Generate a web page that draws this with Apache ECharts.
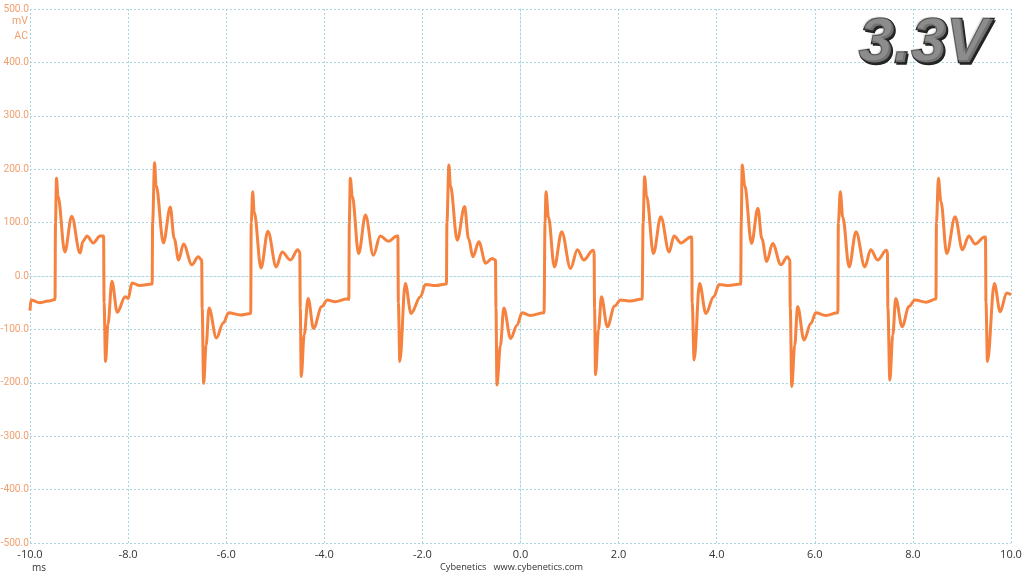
<!DOCTYPE html>
<html><head><meta charset="utf-8">
<script src="https://cdn.jsdelivr.net/npm/echarts@6/dist/echarts.min.js"></script>
<style>html,body{margin:0;padding:0;background:#fff}#c{width:1024px;height:576px}</style>
</head><body><div id="c"></div>
<script>
// time in ms
var timeMs = [
-10.00,-9.98,-9.80,-9.63,-9.49,-9.48,-9.46,-9.43,-9.29,-9.15,-8.98,-8.92,-8.84,-8.71,-8.57,-8.50,
-8.49,-8.46,-8.41,-8.33,-8.22,-8.06,-8.00,-7.92,-7.76,-7.51,
-7.50,-7.46,-7.43,-7.28,-7.14,-7.06,-6.97,-6.87,-6.70,-6.57,-6.50,
-6.49,-6.46,-6.41,-6.35,-6.20,-6.06,-5.95,-5.71,-5.50,
-5.49,-5.46,-5.43,-5.29,-5.15,-4.98,-4.86,-4.69,-4.54,-4.50,
-4.49,-4.47,-4.41,-4.33,-4.22,-4.05,-3.94,-3.78,-3.54,-3.50,
-3.49,-3.47,-3.43,-3.30,-3.16,-3.00,-2.86,-2.69,-2.52,-2.50,
-2.49,-2.46,-2.35,-2.23,-2.04,-1.94,-1.73,-1.51,
-1.50,-1.46,-1.43,-1.29,-1.14,-1.06,-0.97,-0.85,-0.71,-0.58,-0.51,
-0.50,-0.48,-0.41,-0.34,-0.20,-0.07,0.03,0.20,0.48,
0.50,0.52,0.57,0.69,0.84,1.02,1.16,1.29,1.48,1.50,
1.51,1.53,1.59,1.65,1.77,1.92,2.04,2.24,2.48,
2.50,2.53,2.57,2.71,2.86,3.03,3.13,3.27,3.47,3.49,
3.50,3.54,3.65,3.78,3.94,4.05,4.24,4.49,
4.50,4.52,4.57,4.71,4.84,4.92,5.02,5.14,5.31,5.44,5.49,
5.50,5.53,5.59,5.65,5.78,5.92,6.02,6.22,6.47,
6.48,6.52,6.57,6.70,6.84,7.02,7.14,7.28,7.46,7.48,
7.49,7.53,7.59,7.65,7.78,7.92,8.04,8.27,8.47,
8.48,8.52,8.57,8.69,8.86,9.01,9.14,9.27,9.46,9.48,
9.49,9.52,9.66,9.78,9.91,10.00
];
// voltage in mV (AC)
var ripple_mV = [
-65,-45,-50,-47,-44,100,183,150,45,112,43,65,75,62,75,75,
-50,-160,-90,-10,-68,-39,-42,-13,-18,-15,
100,212,170,62,129,70,30,60,21,36,30,
-60,-201,-130,-60,-116,-88,-69,-73,-70,
100,158,120,15,84,17,45,30,49,45,
-60,-188,-110,-42,-98,-57,-45,-48,-43,-44,
100,183,150,42,114,39,75,65,75,75,
-50,-160,-14,-70,-39,-16,-18,-15,
100,208,170,67,130,70,36,64,24,33,30,
-60,-204,-130,-60,-117,-92,-69,-74,-69,
100,158,110,17,83,14,49,30,48,45,
-60,-185,-100,-39,-95,-56,-45,-47,-43,
100,186,150,42,111,45,75,62,73,73,
-50,-157,-14,-70,-39,-16,-18,-15,
100,208,170,61,127,70,27,61,21,36,30,
-60,-207,-130,-57,-120,-89,-69,-74,-69,
100,158,110,17,83,17,49,30,48,45,
-60,-195,-110,-42,-95,-57,-45,-49,-43,
100,183,140,42,111,49,75,60,73,73,
-50,-160,-14,-67,-32,-35
];
var xTicks = {min:-10, max:10, step:2};
var yTicks = {min:-500, max:500, step:100};
var titleText = '3.3V';
var unitLabels = ['mV','AC'];
var xUnit = 'ms';
var footer = 'Cybenetics   www.cybenetics.com';

var seriesData = timeMs.map(function(t,i){return [t, ripple_mV[i]];});
var chart = echarts.init(document.getElementById('c'), null, {renderer:'canvas'});
var gridLine = {show:true, lineStyle:{color:'#a9d5e2', type:[2,2], width:1}};
var titleFont = 'italic bold 63px "Liberation Sans"';
chart.setOption({
  animation:false,
  backgroundColor:'#ffffff',
  grid:{left:30, right:13, top:9, bottom:33, containLabel:false, outerBoundsMode:'none'},
  xAxis:{type:'value', min:xTicks.min, max:xTicks.max, interval:xTicks.step,
    axisLine:{show:true, lineStyle:{color:'#a9d5e2', type:[2,2]}}, axisTick:{show:false},
    splitLine:gridLine,
    axisLabel:{color:'#333', fontSize:11, fontFamily:'Open Sans', margin:6,
      formatter:function(v){return v.toFixed(1);}}},
  yAxis:{type:'value', min:yTicks.min, max:yTicks.max, interval:yTicks.step,
    axisLine:{show:true, lineStyle:{color:'#a9d5e2', type:[2,2]}}, axisTick:{show:false},
    splitLine:gridLine,
    axisLabel:{color:'#f0a070', fontSize:10.2, fontFamily:'Roboto', margin:1,
      formatter:function(v){return v.toFixed(1);}}},
  series:[{type:'line', data:seriesData, showSymbol:false, symbol:'none',
    smooth:0.35, smoothMonotone:'x',
    lineStyle:{color:'#f5823f', width:3}, z:3}],
  graphic:[
    {type:'text', right:996, top:16, style:{text:unitLabels[0], fill:'#f0a070', font:'10.5px Roboto', textAlign:'right'}},
    {type:'text', right:996, top:31, style:{text:unitLabels[1], fill:'#f0a070', font:'10.5px Roboto', textAlign:'right'}},
    {type:'text', left:32, top:563, style:{text:xUnit, fill:'#333', font:'10px "Open Sans"'}},
    {type:'text', left:440, top:563, style:{text:footer, fill:'#333', font:'9.2px "Open Sans"'}},
    {type:'text', left:860, top:14, z:9, style:{text:titleText, font:titleFont,
      fill:'#222', stroke:'#222', lineWidth:1.5}},
    {type:'text', left:858, top:12, z:10, style:{text:titleText, font:titleFont,
      fill:'#727272', stroke:'#2a2a2a', lineWidth:2.5}},
    {type:'text', left:857, top:11, z:11, style:{text:titleText, font:titleFont,
      fill:'rgba(190,190,190,0.35)'}}
  ]
});
</script></body></html>
